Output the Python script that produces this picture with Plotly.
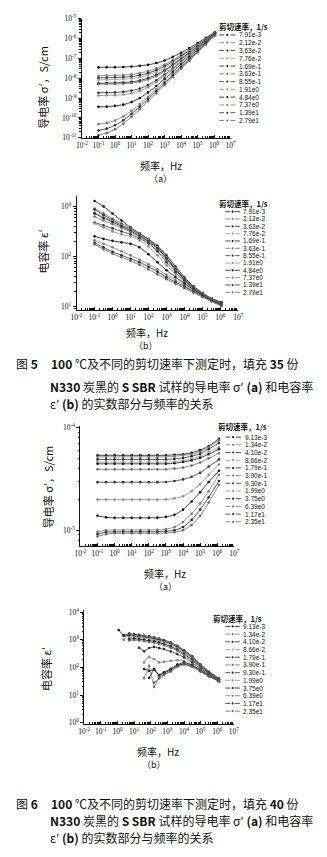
import plotly.graph_objects as go

W, H = 327, 857

# ---------------- data ----------------
# log10 of frequency (Hz) at which each panel was sampled
freq35 = [-1, -0.5, 0, 0.5, 1, 1.5, 2, 2.5, 3, 3.5, 4, 4.5, 5, 5.5, 6.05]
freq40a = [-1, -0.5, 0, 0.5, 1, 1.5, 2, 2.5, 3, 3.5, 4, 4.5, 5, 5.5, 6.1]
freq40b = [0.07, 0.37, 0.7, 1.0, 1.3, 1.6, 1.9, 2.2, 2.5, 2.8, 3.2, 3.6, 4.0, 4.5, 5.0, 5.5, 6.1]

# shear rates (1/s)
rates35 = ["7.91e-3", "2.12e-2", "3.63e-2", "7.76e-2", "1.69e-1", "3.63e-1",
           "8.55e-1", "1.91e0", "4.84e0", "7.37e0", "1.39e1", "2.79e1"]
rates40 = ["9.13e-3", "1.34e-2", "4.10e-2", "8.66e-2", "1.79e-1", "3.90e-1",
           "9.30e-1", "1.99e0", "3.75e0", "6.39e0", "1.17e1", "2.35e1"]

# 35 phr N330: log10 sigma' (S/cm)
sig35_1 = [-7.45, -7.44, -7.44, -7.43, -7.41, -7.37, -7.32, -7.23, -7.10, -6.92, -6.71, -6.48, -6.22, -5.96, -5.67]
sig35_2 = [-7.87, -7.86, -7.85, -7.83, -7.80, -7.74, -7.64, -7.50, -7.31, -7.08, -6.83, -6.56, -6.28, -5.99, -5.68]
sig35_3 = [-7.98, -7.97, -7.96, -7.94, -7.91, -7.85, -7.74, -7.59, -7.39, -7.15, -6.88, -6.60, -6.31, -6.02, -5.69]
sig35_4 = [-8.08, -8.07, -8.06, -8.04, -8.01, -7.95, -7.84, -7.68, -7.47, -7.22, -6.94, -6.64, -6.34, -6.04, -5.70]
sig35_5 = [-8.25, -8.24, -8.23, -8.21, -8.18, -8.11, -7.99, -7.82, -7.59, -7.31, -7.01, -6.70, -6.39, -6.07, -5.71]
sig35_6 = [-8.30, -8.29, -8.29, -8.27, -8.24, -8.17, -8.06, -7.89, -7.65, -7.37, -7.06, -6.74, -6.42, -6.08, -5.72]
sig35_7 = [-8.73, -8.72, -8.71, -8.68, -8.62, -8.52, -8.34, -8.10, -7.81, -7.49, -7.16, -6.81, -6.47, -6.12, -5.74]
sig35_8 = [-8.87, -8.86, -8.85, -8.82, -8.75, -8.64, -8.45, -8.20, -7.89, -7.56, -7.21, -6.86, -6.50, -6.14, -5.74]
sig35_9 = [-9.44, -9.43, -9.39, -9.33, -9.20, -8.99, -8.71, -8.39, -8.03, -7.67, -7.30, -6.93, -6.55, -6.18, -5.76]
sig35_10 = [-10.31, -10.25, -10.13, -9.92, -9.64, -9.30, -8.93, -8.55, -8.17, -7.78, -7.39, -7.00, -6.61, -6.22, -5.79]
sig35_11 = [-10.63, -10.54, -10.37, -10.12, -9.79, -9.43, -9.04, -8.65, -8.25, -7.85, -7.45, -7.05, -6.65, -6.25, -5.81]
sig35_12 = [-10.87, -10.76, -10.57, -10.29, -9.94, -9.56, -9.16, -8.75, -8.34, -7.93, -7.52, -7.11, -6.70, -6.29, -5.84]

# 35 phr N330: log10 epsilon'
eps35_1 = [3.11, 3.00, 2.86, 2.72, 2.58, 2.46, 2.34, 2.18, 1.97, 1.74, 1.54, 1.38, 1.25, 1.15, 1.07]
eps35_2 = [2.96, 2.86, 2.76, 2.66, 2.56, 2.46, 2.35, 2.22, 2.03, 1.80, 1.58, 1.40, 1.26, 1.16, 1.08]
eps35_3 = [2.94, 2.83, 2.73, 2.63, 2.54, 2.44, 2.33, 2.20, 2.01, 1.79, 1.57, 1.39, 1.26, 1.15, 1.07]
eps35_4 = [2.88, 2.79, 2.71, 2.62, 2.53, 2.43, 2.32, 2.18, 1.98, 1.76, 1.55, 1.38, 1.25, 1.15, 1.06]
eps35_5 = [2.86, 2.77, 2.69, 2.60, 2.51, 2.41, 2.30, 2.16, 1.96, 1.74, 1.54, 1.37, 1.24, 1.14, 1.06]
eps35_6 = [2.80, 2.72, 2.65, 2.57, 2.49, 2.39, 2.28, 2.13, 1.93, 1.72, 1.52, 1.36, 1.24, 1.14, 1.05]
eps35_7 = [2.68, 2.62, 2.56, 2.50, 2.44, 2.36, 2.26, 2.10, 1.88, 1.68, 1.50, 1.35, 1.23, 1.13, 1.05]
eps35_8 = [2.66, 2.58, 2.50, 2.44, 2.40, 2.32, 2.20, 2.02, 1.82, 1.63, 1.47, 1.33, 1.22, 1.13, 1.04]
eps35_9 = [2.40, 2.35, 2.31, 2.28, 2.25, 2.18, 2.04, 1.88, 1.72, 1.58, 1.45, 1.33, 1.22, 1.12, 1.03]
eps35_10 = [2.32, 2.25, 2.18, 2.10, 2.02, 1.93, 1.84, 1.74, 1.63, 1.52, 1.41, 1.31, 1.21, 1.12, 1.02]
eps35_11 = [2.27, 2.18, 2.09, 2.02, 1.95, 1.88, 1.79, 1.69, 1.58, 1.48, 1.39, 1.29, 1.20, 1.11, 1.01]
eps35_12 = [2.24, 2.14, 2.05, 1.98, 1.91, 1.83, 1.74, 1.64, 1.54, 1.45, 1.36, 1.27, 1.18, 1.09, 1.00]

# 40 phr N330: log10 sigma' (S/cm)
sig40_1 = [-4.270, -4.270, -4.270, -4.270, -4.270, -4.270, -4.270, -4.270, -4.270, -4.265, -4.260, -4.245, -4.220, -4.180, -4.110]
sig40_2 = [-4.285, -4.285, -4.285, -4.285, -4.285, -4.285, -4.285, -4.285, -4.285, -4.280, -4.270, -4.260, -4.235, -4.190, -4.125]
sig40_3 = [-4.310, -4.310, -4.310, -4.310, -4.310, -4.310, -4.310, -4.310, -4.310, -4.305, -4.295, -4.280, -4.255, -4.210, -4.150]
sig40_4 = [-4.337, -4.337, -4.337, -4.337, -4.337, -4.337, -4.337, -4.337, -4.337, -4.332, -4.320, -4.305, -4.280, -4.240, -4.190]
sig40_5 = [-4.353, -4.353, -4.353, -4.353, -4.353, -4.353, -4.353, -4.353, -4.353, -4.348, -4.335, -4.320, -4.295, -4.260, -4.210]
sig40_6 = [-4.407, -4.407, -4.407, -4.407, -4.407, -4.407, -4.407, -4.407, -4.407, -4.400, -4.390, -4.370, -4.340, -4.300, -4.250]
sig40_7 = [-4.532, -4.532, -4.532, -4.532, -4.532, -4.532, -4.532, -4.532, -4.530, -4.520, -4.505, -4.480, -4.440, -4.380, -4.310]
sig40_8 = [-4.702, -4.702, -4.702, -4.702, -4.702, -4.702, -4.702, -4.702, -4.700, -4.690, -4.670, -4.620, -4.550, -4.460, -4.360]
sig40_9 = [-4.860, -4.875, -4.880, -4.880, -4.880, -4.880, -4.880, -4.878, -4.870, -4.850, -4.800, -4.720, -4.630, -4.530, -4.420]
sig40_10 = [-5.016, -5.000, -4.998, -4.998, -4.998, -4.998, -4.998, -4.997, -4.990, -4.970, -4.920, -4.840, -4.740, -4.620, -4.460]
sig40_11 = [-5.038, -5.020, -5.016, -5.016, -5.016, -5.016, -5.016, -5.015, -5.010, -5.000, -4.970, -4.900, -4.800, -4.680, -4.520]
sig40_12 = [-5.060, -5.040, -5.030, -5.030, -5.030, -5.030, -5.030, -5.030, -5.028, -5.020, -5.000, -4.950, -4.860, -4.730, -4.560]

# 40 phr N330: log10 epsilon' (None = not measured)
eps40_1 = [3.35, 3.14, 3.22, 3.20, 3.18, 3.15, 3.12, 3.08, 3.04, 2.99, 2.90, 2.78, 2.62, 2.40, 2.10, 1.84, 1.60]
eps40_2 = [None, 3.00, 3.19, 3.17, 3.15, 3.13, 3.10, 3.06, 3.02, 2.97, 2.88, 2.76, 2.60, 2.38, 2.08, 1.82, 1.59]
eps40_3 = [None, 3.17, 3.15, 3.14, 3.12, 3.10, 3.07, 3.03, 2.99, 2.94, 2.85, 2.73, 2.57, 2.35, 2.06, 1.81, 1.58]
eps40_4 = [None, None, 3.08, 3.10, 3.08, 3.06, 3.03, 2.99, 2.95, 2.90, 2.81, 2.69, 2.53, 2.32, 2.04, 1.79, 1.57]
eps40_5 = [None, None, 3.02, 3.04, 3.02, 3.00, 2.97, 2.94, 2.90, 2.85, 2.76, 2.64, 2.49, 2.28, 2.02, 1.78, 1.56]
eps40_6 = [None, None, 2.97, 2.99, 2.97, 2.95, 2.92, 2.89, 2.85, 2.80, 2.71, 2.60, 2.45, 2.24, 1.99, 1.76, 1.55]
eps40_7 = [None, None, None, None, 2.71, 2.58, 2.70, 2.74, 2.70, 2.66, 2.58, 2.48, 2.36, 2.17, 1.95, 1.73, 1.54]
eps40_8 = [None, None, None, None, None, 2.18, 2.38, 2.30, 2.18, 2.20, 2.24, 2.26, 2.23, 2.10, 1.91, 1.71, 1.53]
eps40_9 = [None, None, None, None, None, 1.94, 1.88, 1.92, 1.70, 1.80, 1.90, 2.10, 2.18, 2.08, 1.89, 1.70, 1.52]
eps40_10 = [None, None, None, None, None, 1.61, 2.06, 1.29, 1.64, 1.75, 1.85, 2.05, 2.14, 2.06, 1.88, 1.69, 1.51]
eps40_11 = [None, None, None, None, None, None, 1.62, 1.95, 1.72, 1.82, 1.95, 2.08, 2.12, 2.04, 1.86, 1.68, 1.50]
eps40_12 = [None, None, None, None, None, None, None, 1.45, 1.60, 1.72, 1.86, 2.02, 2.10, 2.02, 1.85, 1.67, 1.49]

sig35 = [sig35_1, sig35_2, sig35_3, sig35_4, sig35_5, sig35_6,
         sig35_7, sig35_8, sig35_9, sig35_10, sig35_11, sig35_12]
eps35 = [eps35_1, eps35_2, eps35_3, eps35_4, eps35_5, eps35_6,
         eps35_7, eps35_8, eps35_9, eps35_10, eps35_11, eps35_12]
sig40 = [sig40_1, sig40_2, sig40_3, sig40_4, sig40_5, sig40_6,
         sig40_7, sig40_8, sig40_9, sig40_10, sig40_11, sig40_12]
eps40 = [eps40_1, eps40_2, eps40_3, eps40_4, eps40_5, eps40_6,
         eps40_7, eps40_8, eps40_9, eps40_10, eps40_11, eps40_12]

# ---------------- styling ----------------
COLORS = ["#111111", "#777777", "#2a2a2a", "#999999", "#1a1a1a", "#6a6a6a",
          "#333333", "#8a8a8a", "#111111", "#777777", "#2a2a2a", "#666666"]
SERIF = "Liberation Serif, DejaVu Serif, serif"
CJK = "Noto Sans CJK SC, sans-serif"
SANS = "Liberation Sans, Arial, sans-serif"
INK = "#111111"


def px(x):
    return x / W


def py(y):
    return 1 - y / H


def unlog(vals):
    return [None if v is None else 10.0 ** v for v in vals]


def log_axis(lo, hi, rng, dom, anchor, ticks, minor_ticks):
    vals = [10.0 ** k for k in range(lo, hi + 1)]
    text = ["10<sup>%d</sup>" % k for k in range(lo, hi + 1)]
    minors = [m * 10.0 ** k for k in range(lo - 1, hi + 1) for m in range(2, 10)]
    return dict(
        type="log", range=rng, domain=dom, anchor=anchor,
        showline=True, linecolor=INK, linewidth=1,
        showgrid=False, zeroline=False,
        tickmode="array", tickvals=vals, ticktext=text, tickangle=0,
        ticks=ticks, ticklen=3, tickwidth=0.8, tickcolor=INK,
        tickfont=dict(family=SERIF, size=7.5, color=INK),
        minor=dict(tickmode="array", tickvals=minors, ticks=minor_ticks,
                   ticklen=1.6, tickwidth=0.6, tickcolor=INK, showgrid=False),
    )


fig = go.Figure()
shapes = []
annots = []

panels = [
    dict(ax="x", ay="y", freq=freq35, data=sig35, xs=(78.6, 232.5), ys=(133.5, 13.0),
         yr=[-11, -5], yd=(-11, -5), shape="spline"),
    dict(ax="x2", ay="y2", freq=freq35, data=eps35, xs=(73.0, 240.5), ys=(308.0, 192.0),
         yr=[0.92, 3.22], yd=(1, 3), shape="spline"),
    dict(ax="x3", ay="y3", freq=freq40a, data=sig40, xs=(77.0, 236.3), ys=(547.0, 425.0),
         yr=[-5.154, -3.98], yd=(-5, -4), shape="spline"),
    dict(ax="x4", ay="y4", freq=freq40b, data=eps40, xs=(81.0, 235.8), ys=(727.0, 611.7),
         yr=[-0.036, 4.08], yd=(0, 4), shape="linear"),
]

layout_axes = {}
for i, p in enumerate(panels):
    n = "" if i == 0 else str(i + 1)
    layout_axes["xaxis" + n] = log_axis(-2, 7, [-2, 7], [px(p["xs"][0]), px(p["xs"][1])],
                                        "y" + n, "inside", "inside")
    layout_axes["yaxis" + n] = log_axis(p["yd"][0], p["yd"][1], p["yr"],
                                        [py(p["ys"][0]), py(p["ys"][1])],
                                        "x" + n, "outside", "outside")
    for k, series in enumerate(p["data"]):
        fig.add_trace(go.Scatter(
            x=unlog(p["freq"]), y=unlog(series), xaxis=p["ax"], yaxis=p["ay"],
            mode="lines+markers", showlegend=False, connectgaps=False,
            line=dict(color=COLORS[k], width=0.8, shape=p["shape"], smoothing=0.6),
            marker=dict(size=2.6, color=COLORS[k]),
        ))

# ---------------- legends (title + 12 entries per panel) ----------------
legends = [
    dict(title_x=245.5, title_y=21.0, x0=220.7, x1=237.3, tx=239.0, y0=29.3, dy=7.88, labels=rates35),
    dict(title_x=245.5, title_y=199.7, x0=227.0, x1=242.0, tx=243.5, y0=208.3, dy=7.43, labels=rates35),
    dict(title_x=244.5, title_y=425.7, x0=227.0, x1=243.0, tx=245.0, y0=436.7, dy=7.8, labels=rates40),
    dict(title_x=240.0, title_y=620.0, x0=227.0, x1=242.0, tx=243.0, y0=628.5, dy=7.8, labels=rates40),
]
for lg in legends:
    annots.append(dict(text="<b>剪切速率，1/s</b>", x=px(lg["title_x"]), y=py(lg["title_y"]),
                       xref="paper", yref="paper", showarrow=False, xanchor="center",
                       yanchor="middle", font=dict(family=CJK, size=7.5, color=INK)))
    for k, lab in enumerate(lg["labels"]):
        yy = lg["y0"] + k * lg["dy"]
        c = COLORS[k]
        mid = 0.5 * (lg["x0"] + lg["x1"])
        for a, b in ((lg["x0"], lg["x0"] + 5.0), (lg["x1"] - 5.0, lg["x1"])):
            shapes.append(dict(type="line", xref="paper", yref="paper",
                               x0=px(a), x1=px(b), y0=py(yy), y1=py(yy),
                               line=dict(color=c, width=0.8)))
        shapes.append(dict(type="circle", xref="paper", yref="paper",
                           x0=px(mid - 1.1), x1=px(mid + 1.1), y0=py(yy + 1.1), y1=py(yy - 1.1),
                           fillcolor=c, line=dict(width=0)))
        annots.append(dict(text=lab, x=px(lg["tx"]), y=py(yy), xref="paper", yref="paper",
                           showarrow=False, xanchor="left", yanchor="middle",
                           font=dict(family=SANS, size=6.5, color=INK)))


# ---------------- axis titles and panel letters ----------------
def text_at(t, x, y, size, angle=0, family=CJK, anchor="center"):
    annots.append(dict(text=t, x=px(x), y=py(y), xref="paper", yref="paper",
                       showarrow=False, xanchor=anchor, yanchor="middle", textangle=angle,
                       font=dict(family=family, size=size, color=INK)))


text_at("导电率 σ′，S/cm", 38, 82, 11, angle=-90)
text_at("频率，Hz", 160, 161.5, 10)
text_at("（a）", 160, 174.5, 9)

text_at("电容率 ε′", 38, 249, 11, angle=-90)
text_at("频率，Hz", 146, 330.5, 10)
text_at("（b）", 145, 343.5, 9)

text_at("导电率 σ′，S/cm", 43, 487, 11, angle=-90)
text_at("频率，Hz", 165, 575, 10)
text_at("（a）", 165, 588.5, 9)

text_at("电容率 ε′", 42, 672, 11, angle=-90)
text_at("频率，Hz", 157, 755, 10)
text_at("（b）", 153, 768, 9)

# ---------------- figure captions ----------------
text_at("图 <b>5</b>", 8, 362, 12, anchor="left")
text_at("<b>100</b> ℃及不同的剪切速率下测定时，填充 <b>35</b> 份", 44, 362, 12, anchor="left")
text_at("<b>N330</b> 炭黑的 <b>S SBR</b> 试样的导电率 σ′ <b>(a)</b> 和电容率", 43, 385, 12, anchor="left")
text_at("ε′ <b>(b)</b> 的实数部分与频率的关系", 43, 403, 12, anchor="left")

text_at("图 <b>6</b>", 8, 808, 12, anchor="left")
text_at("<b>100</b> ℃及不同的剪切速率下测定时，填充 <b>40</b> 份", 44, 808, 12, anchor="left")
text_at("<b>N330</b> 炭黑的 <b>S SBR</b> 试样的导电率 σ′ <b>(a)</b> 和电容率", 43, 825, 12, anchor="left")
text_at("ε′ <b>(b)</b> 的实数部分与频率的关系", 43, 842, 12, anchor="left")

fig.update_layout(
    width=W, height=H, autosize=False,
    margin=dict(l=0, r=0, t=0, b=0, pad=0),
    paper_bgcolor="white", plot_bgcolor="white",
    showlegend=False,
    shapes=shapes, annotations=annots,
    **layout_axes,
)

fig.write_html("out.html", config={"displayModeBar": False})
